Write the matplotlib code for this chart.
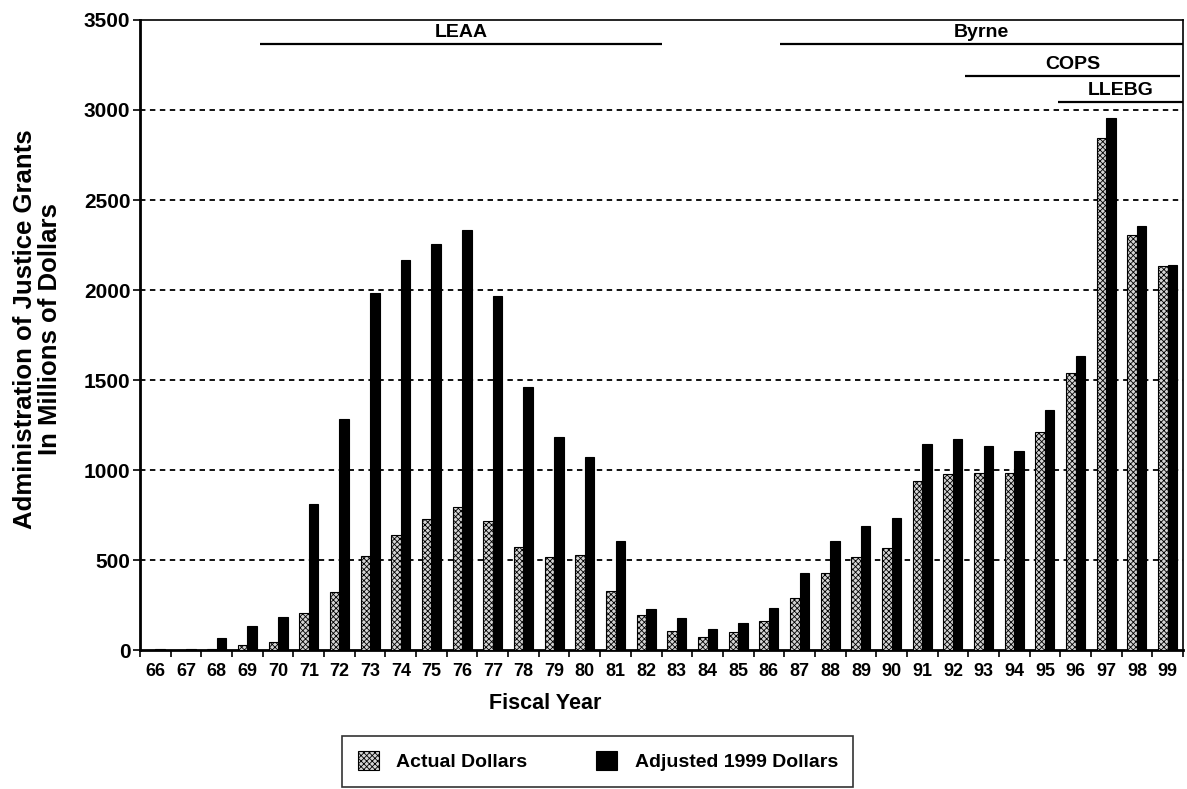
import matplotlib
matplotlib.use("Agg")
import matplotlib.pyplot as plt
import numpy as np

plt.rcParams["font.family"] = ["Liberation Sans", "DejaVu Sans"]
plt.rcParams["font.weight"] = "bold"
plt.rcParams["hatch.color"] = "#4a4a4a"
plt.rcParams["hatch.linewidth"] = 0.6

# fiscal years 1966-1999, millions of dollars
years = [f"{y:02d}" for y in range(66, 100)]
actual = [2, 3, 7, 28, 46, 205, 324, 525, 641, 726, 795, 717, 572, 518, 530, 331,
          195, 108, 74, 99, 164, 289, 428, 517, 566, 940, 979, 982, 986, 1212,
          1540, 2845, 2307, 2136]
adjusted = [4, 9, 65, 134, 186, 814, 1285, 1983, 2166, 2254, 2332, 1968, 1460,
            1182, 1071, 605, 227, 177, 115, 152, 236, 428, 605, 690, 732, 1143,
            1171, 1136, 1106, 1333, 1633, 2956, 2356, 2140]

# grant programs: name, span in fiscal years, level on the chart
programs = ["LEAA", "Byrne", "COPS", "LLEBG"]
prog_start = [69.41, 86.36, 92.39, 95.42]
prog_end = [82.51, 99.5, 99.4, 99.5]
prog_level = [3367, 3367, 3191, 3043]

x = np.arange(len(years))
w = 0.31

fig = plt.figure(figsize=(11.87, 7.89), dpi=100)
ax = fig.add_axes([0.118, 0.176, 0.8786, 0.7987])

ax.bar(x - w / 2, actual, w, facecolor="#d4d4d4", edgecolor="black",
       linewidth=0.8, hatch="xxxxxx", label="Actual Dollars", zorder=3)
ax.bar(x + w / 2, adjusted, w, facecolor="black", edgecolor="black",
       linewidth=0.8, label="Adjusted 1999 Dollars", zorder=3)

ax.set_xlim(-0.5, len(years) - 0.5)
ax.set_ylim(0, 3500)
ax.set_yticks(range(0, 3501, 500))
ax.set_xticks(np.arange(len(years) + 1) - 0.5)
ax.set_xticklabels([])
ax.set_xticks(x, minor=True)
ax.set_xticklabels(years, minor=True, fontsize=13, fontweight="bold")
ax.tick_params(axis="x", which="minor", length=0, pad=9)
ax.tick_params(axis="x", which="major", length=5, width=1.2, direction="out")
ax.tick_params(axis="y", length=5, width=1.2, labelsize=15, pad=2)
for t in ax.get_yticklabels():
    t.set_fontweight("bold")

for v in range(500, 3001, 500):
    ax.axhline(v, color="black", linestyle=(0, (3, 2.5)), linewidth=1.3, zorder=1)

for s in ["left", "bottom"]:
    ax.spines[s].set_linewidth(2.0)
for s in ["top", "right"]:
    ax.spines[s].set_linewidth(1.2)

for name, a, b, lvl in zip(programs, prog_start, prog_end, prog_level):
    ax.hlines(lvl, a - 66, b - 66, color="black", linewidth=1.6, zorder=4)
    ax.annotate(name, ((a + b) / 2 - 66, lvl), xytext=(0, 5),
                textcoords="offset points", ha="center", va="baseline",
                fontsize=14, fontweight="bold")

ax.set_ylabel("Administration of Justice Grants\nIn Millions of Dollars",
              fontsize=18.5, fontweight="bold", linespacing=1.05, va="center")
ax.yaxis.set_label_coords(-0.098, 0.51)
ax.set_xlabel("Fiscal Year", fontsize=15.5, fontweight="bold", va="center")
ax.xaxis.set_label_coords(0.388, -0.084)

leg = fig.legend(loc="center", bbox_to_anchor=(0.5035, 0.035), ncol=2,
                 fontsize=14, frameon=True, fancybox=False, edgecolor="black",
                 handlelength=1.1, handleheight=1.1, handletextpad=0.9,
                 columnspacing=3.5, borderpad=0.8)
leg.get_frame().set_linewidth(1.2)
for t in leg.get_texts():
    t.set_fontweight("bold")

fig.savefig("out.png", dpi=100)
